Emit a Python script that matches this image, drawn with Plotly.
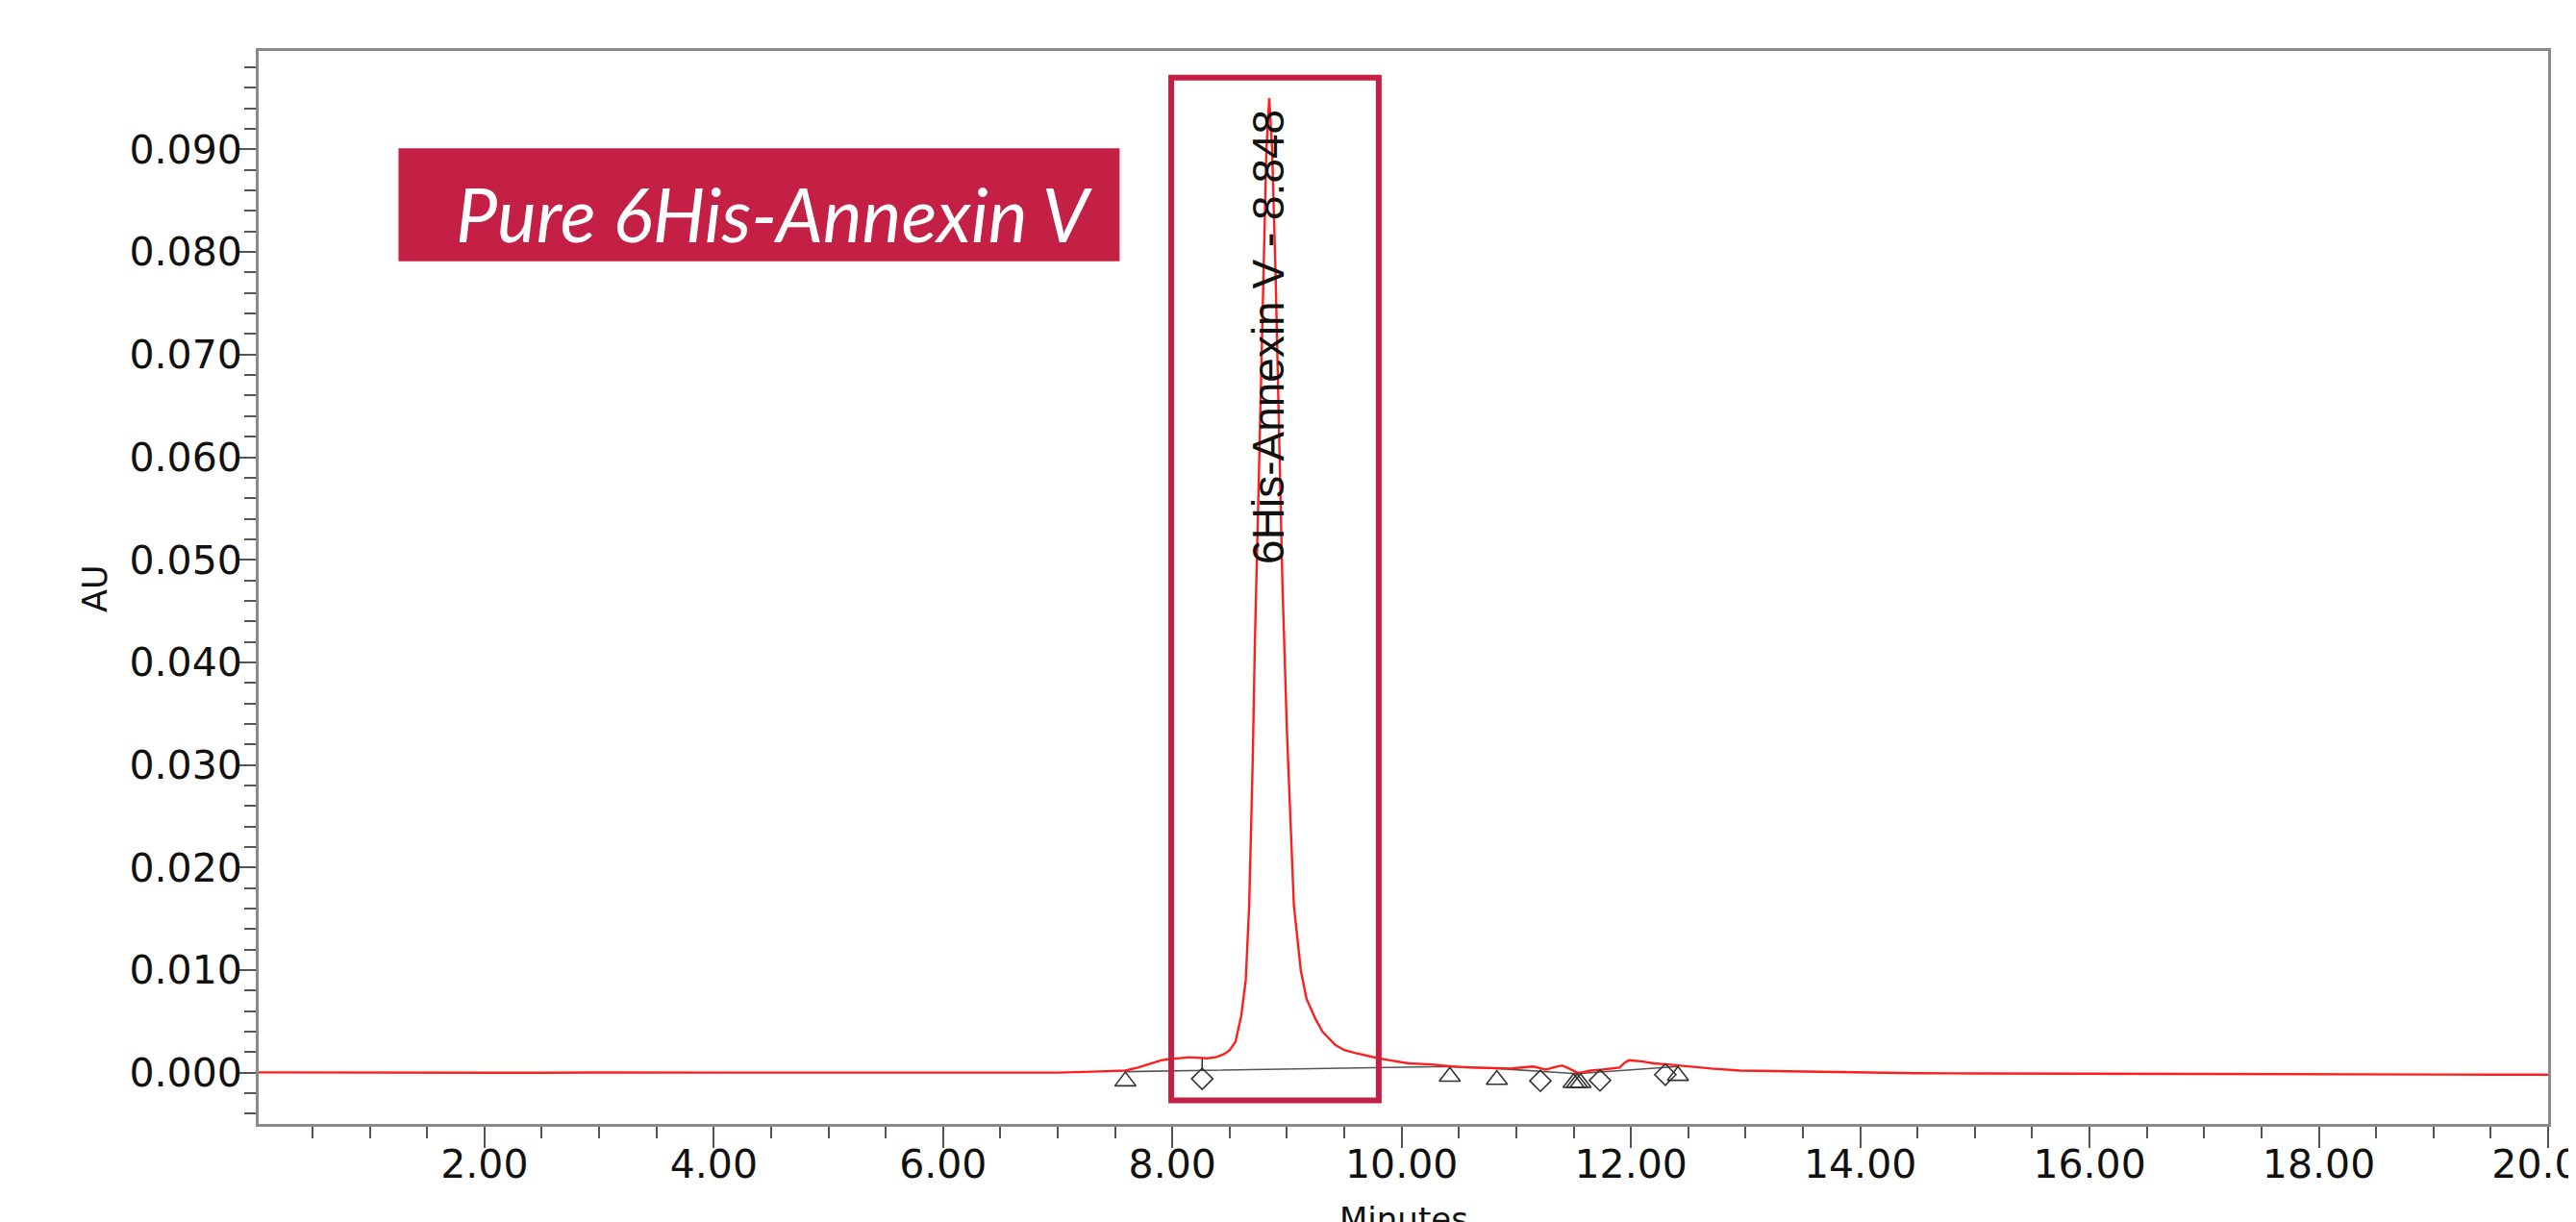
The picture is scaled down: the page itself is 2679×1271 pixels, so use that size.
import plotly.graph_objects as go

# ---------------- data ----------------
time_min = [
    0.03, 0.5, 1.0, 1.5, 2.0, 2.5, 3.0, 3.5, 4.0, 4.5, 5.0, 5.5, 6.0, 6.5, 7.0,
    7.30, 7.59, 7.70, 7.81, 7.90, 7.96, 8.05, 8.15, 8.30, 8.38, 8.45, 8.50, 8.55,
    8.60, 8.64, 8.67, 8.70, 8.72, 8.75, 8.79, 8.82, 8.845, 8.87, 8.90, 8.93, 8.96,
    9.00, 9.06, 9.12, 9.17, 9.25, 9.31, 9.42, 9.50, 9.60, 9.71, 9.80, 9.90, 10.06,
    10.26, 10.44, 10.60, 10.81, 10.95, 11.05, 11.15, 11.22, 11.26, 11.32, 11.40,
    11.46, 11.53, 11.56, 11.65, 11.75, 11.90, 11.95, 11.98, 12.09, 12.20, 12.32,
    12.50, 12.70, 12.95, 13.5, 14.0, 14.5, 15.0, 15.5, 16.0, 16.5, 17.0, 17.5,
    18.0, 18.5, 19.0, 19.5, 20.0,
]
absorbance_au = [
    0.00003, 0.00001, 0.00000, 0.00002, 0.00000, -0.00001, 0.00001, 0.00000,
    -0.00001, 0.00000, -0.00002, 0.00000, -0.00001, 0.00000, 0.00000,
    0.0001, 0.0002, 0.0005, 0.0009, 0.0012, 0.0013, 0.0014, 0.0015, 0.0014,
    0.0015, 0.0018, 0.0022, 0.0030, 0.0055, 0.0090, 0.0163, 0.0300, 0.0420,
    0.0560, 0.0750, 0.0900, 0.0950, 0.0900, 0.0780, 0.0620, 0.0476, 0.0330,
    0.0163, 0.0100, 0.0072, 0.0052, 0.0040, 0.0027, 0.0022, 0.0019, 0.0016,
    0.0014, 0.0012, 0.0009, 0.0008, 0.0006, 0.0005, 0.0004, 0.0004, 0.0005,
    0.0006, 0.0004, 0.0003, 0.0005, 0.0007, 0.0004, 0.0000, 0.0000, 0.0002,
    0.0003, 0.0005, 0.0010, 0.0012, 0.0011, 0.0009, 0.0008, 0.0006, 0.0004,
    0.0002, 0.0001, 0.0000, -0.00005, -0.00008, -0.0001, -0.0001, -0.00012,
    -0.00012, -0.00015, -0.00015, -0.00018, -0.0002, -0.0002, -0.0002,
]

# integration baseline drawn under the peaks
baseline_t = [7.59, 10.42, 10.83, 11.53, 12.41]
baseline_au = [0.0001, 0.0006, 0.0004, -0.0001, 0.0006]

# peak start / end markers (triangles) and drop markers (diamonds)
tri_t = [7.59, 10.42, 10.83, 11.50, 11.53, 11.56, 12.41]
tri_au = [-0.00084, -0.00038, -0.00069, -0.0010, -0.0010, -0.0010, -0.0003]
dia_t = [8.26, 11.21, 11.73, 12.30]
dia_au = [-0.0006, -0.0008, -0.00075, -0.0002]

# drop line at the first diamond
drop_t = [8.26, 8.26]
drop_au = [0.0002, 0.0015]

peak_label = "6His-Annexin V - 8.848"
peak_label_t = 8.83
peak_label_au = 0.0717
box_title = "Pure 6His-Annexin V"

x_tickvals = [2, 4, 6, 8, 10, 12, 14, 16, 18, 20]
x_ticktext = ["2.00", "4.00", "6.00", "8.00", "10.00", "12.00", "14.00", "16.00", "18.00", "20.00"]
y_tickvals = [0.0, 0.01, 0.02, 0.03, 0.04, 0.05, 0.06, 0.07, 0.08, 0.09]
y_ticktext = ["0.000", "0.010", "0.020", "0.030", "0.040", "0.050", "0.060", "0.070", "0.080", "0.090"]

# ---------------- figure ----------------
W, H = 2679, 1271
ML, MR, MT, MB = 261, 37, 45, 110
PW, PH = W - ML - MR, H - MT - MB

CRIMSON = "#C42046"
TICKFONT = dict(family="DejaVu Sans", size=41, color="#111111")

fig = go.Figure()

fig.add_trace(go.Scatter(
    x=baseline_t, y=baseline_au, mode="lines",
    line=dict(color="#555555", width=1.6), hoverinfo="skip", showlegend=False))
fig.add_trace(go.Scatter(
    x=drop_t, y=drop_au, mode="lines",
    line=dict(color="#333333", width=1.6), hoverinfo="skip", showlegend=False))
fig.add_trace(go.Scatter(
    x=time_min, y=absorbance_au, mode="lines",
    line=dict(color="#FF1E1E", width=2.4), showlegend=False))
fig.add_trace(go.Scatter(
    x=tri_t, y=tri_au, mode="markers",
    marker=dict(symbol="triangle-up-open", size=19, color="#333333", line=dict(width=1.6)),
    showlegend=False))
fig.add_trace(go.Scatter(
    x=dia_t, y=dia_au, mode="markers",
    marker=dict(symbol="diamond-open", size=17, color="#333333", line=dict(width=1.6)),
    showlegend=False))

# red outline box around the main peak
fig.add_shape(type="rect", xref="x", yref="y", x0=7.99, x1=9.80, y0=-0.0027, y1=0.0970,
              line=dict(color=CRIMSON, width=6), fillcolor="rgba(0,0,0,0)", layer="above")

# filled title box
fig.add_shape(type="rect", xref="x", yref="y", x0=1.25, x1=7.54, y0=0.0791, y1=0.0901,
              line=dict(color=CRIMSON, width=0), fillcolor=CRIMSON, layer="above")

fig.add_annotation(x=7.33, y=0.0838, xref="x", yref="y", xanchor="right", yanchor="middle",
                   text="<i>" + box_title + "</i>", showarrow=False,
                   font=dict(family="Lato", size=77, color="white"))

fig.add_annotation(x=peak_label_t, y=peak_label_au, xref="x", yref="y",
                   xanchor="center", yanchor="middle",
                   text=peak_label, textangle=-90, showarrow=False,
                   font=dict(family="Liberation Sans", size=46, color="#111111"))

# axis titles
fig.add_annotation(x=(91 - ML) / PW, y=(H - MB - 604) / PH,
                   xref="paper", yref="paper", xanchor="center", yanchor="middle",
                   text="AU", textangle=-90, showarrow=False,
                   font=dict(family="DejaVu Sans", size=35, color="#111111"))
fig.add_annotation(x=(1452 - ML) / PW, y=(H - MB - 1238) / PH, xref="paper", yref="paper",
                   xanchor="center", yanchor="top", text="Minutes", showarrow=False,
                   font=dict(family="DejaVu Sans", size=34, color="#111111"))

axis_common = dict(showline=True, linecolor="#8a8a8a", linewidth=3, mirror=True,
                   showgrid=False, zeroline=False, ticks="outside", tickcolor="#555555",
                   tickwidth=2, tickfont=TICKFONT, ticklabeloverflow="allow")

fig.update_xaxes(range=[0.03, 20.0001], tickvals=x_tickvals, ticktext=x_ticktext,
                 ticklen=22, ticklabelstandoff=-18,
                 minor=dict(dtick=0.5, tick0=0, ticks="outside", ticklen=12,
                            tickcolor="#555555", tickwidth=2),
                 **axis_common)
fig.update_yaxes(range=[-0.0050, 0.0996], tickvals=y_tickvals, ticktext=y_ticktext,
                 ticklen=20, ticklabelstandoff=-14,
                 minor=dict(dtick=0.002, tick0=0, ticks="outside", ticklen=12,
                            tickcolor="#555555", tickwidth=2),
                 **axis_common)

fig.update_layout(width=W, height=H, margin=dict(l=ML, r=MR, t=MT, b=MB, autoexpand=False),
                  paper_bgcolor="white", plot_bgcolor="white", showlegend=False)

fig.write_html("out.html")
